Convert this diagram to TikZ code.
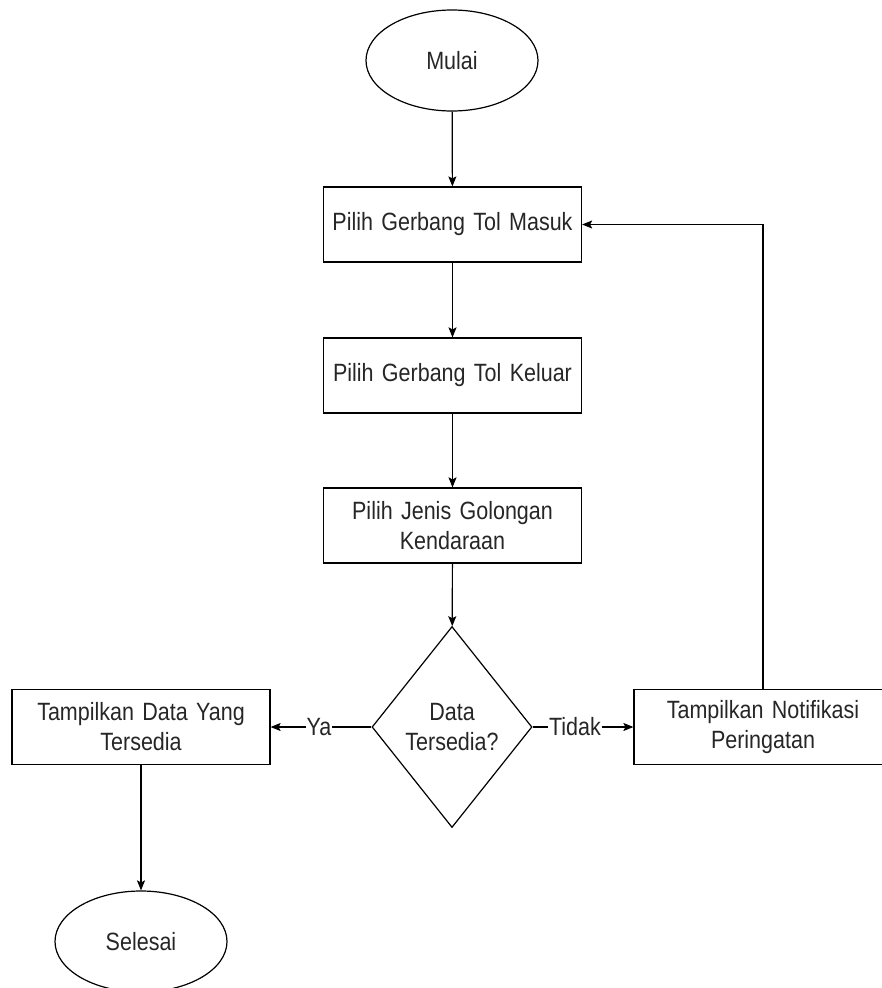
\documentclass[tikz,border=0pt]{standalone}
\usepackage{fontspec}
\setmainfont{Liberation Sans}[FakeStretch=0.86]
\usetikzlibrary{shapes.geometric,arrows.meta}
\newcommand\mynodefont{\fontsize{25}{30}\selectfont\spaceskip=5.8pt plus 1pt minus 1pt\relax}
\begin{document}
\begin{tikzpicture}[x=1pt,y=-1pt,
  every node/.style={font=\mynodefont, text=black!85},
  proc/.style={draw, line width=1.2pt, rectangle, minimum width=258pt, minimum height=75pt, inner sep=0pt, align=center, text width=250pt},
  term/.style={draw, line width=1.2pt, ellipse, minimum width=172pt, minimum height=101pt, inner sep=0pt},
  dec/.style={draw, line width=1.2pt, diamond, minimum width=160pt, minimum height=201pt, inner sep=0pt, align=center},
  conn/.style={line width=1.2pt, -{Stealth[length=10pt,width=8pt,inset=2pt]}},
  lbl/.style={fill=white, inner sep=1pt}]
\useasboundingbox (0,0) rectangle (882,988);
\node[term] (mulai) at (452,60.5) {Mulai};
\node[proc] (b1) at (452.5,224.5) {Pilih Gerbang Tol Masuk};
\node[proc] (b2) at (452.5,375.5) {Pilih Gerbang Tol Keluar};
\node[proc] (b3) at (452.5,525.5) {Pilih Jenis Golongan\\Kendaraan};
\node[dec] (dia) at (452,727) {Data\\Tersedia?};
\node[proc] (left) at (141,727) {Tampilkan Data Yang\\Tersedia};
\node[proc] (right) at (763,727) {Tampilkan Notifikasi\\Peringatan};
\node[term] (selesai) at (141,941.5) {Selesai};
\draw[conn] (mulai) -- (b1);
\draw[conn] (b1) -- (b2);
\draw[conn] (b2) -- (b3);
\draw[conn] (b3) -- (dia);
\draw[conn] (dia.west) -- node[lbl, pos=0.52] {Ya} (left.east);
\draw[conn] (dia.east) -- node[lbl, pos=0.42] {Tidak} (right.west);
\draw[conn] (right.north) |- (b1.east);
\draw[conn] (left.south) -- (selesai.north);
\end{tikzpicture}
\end{document}
